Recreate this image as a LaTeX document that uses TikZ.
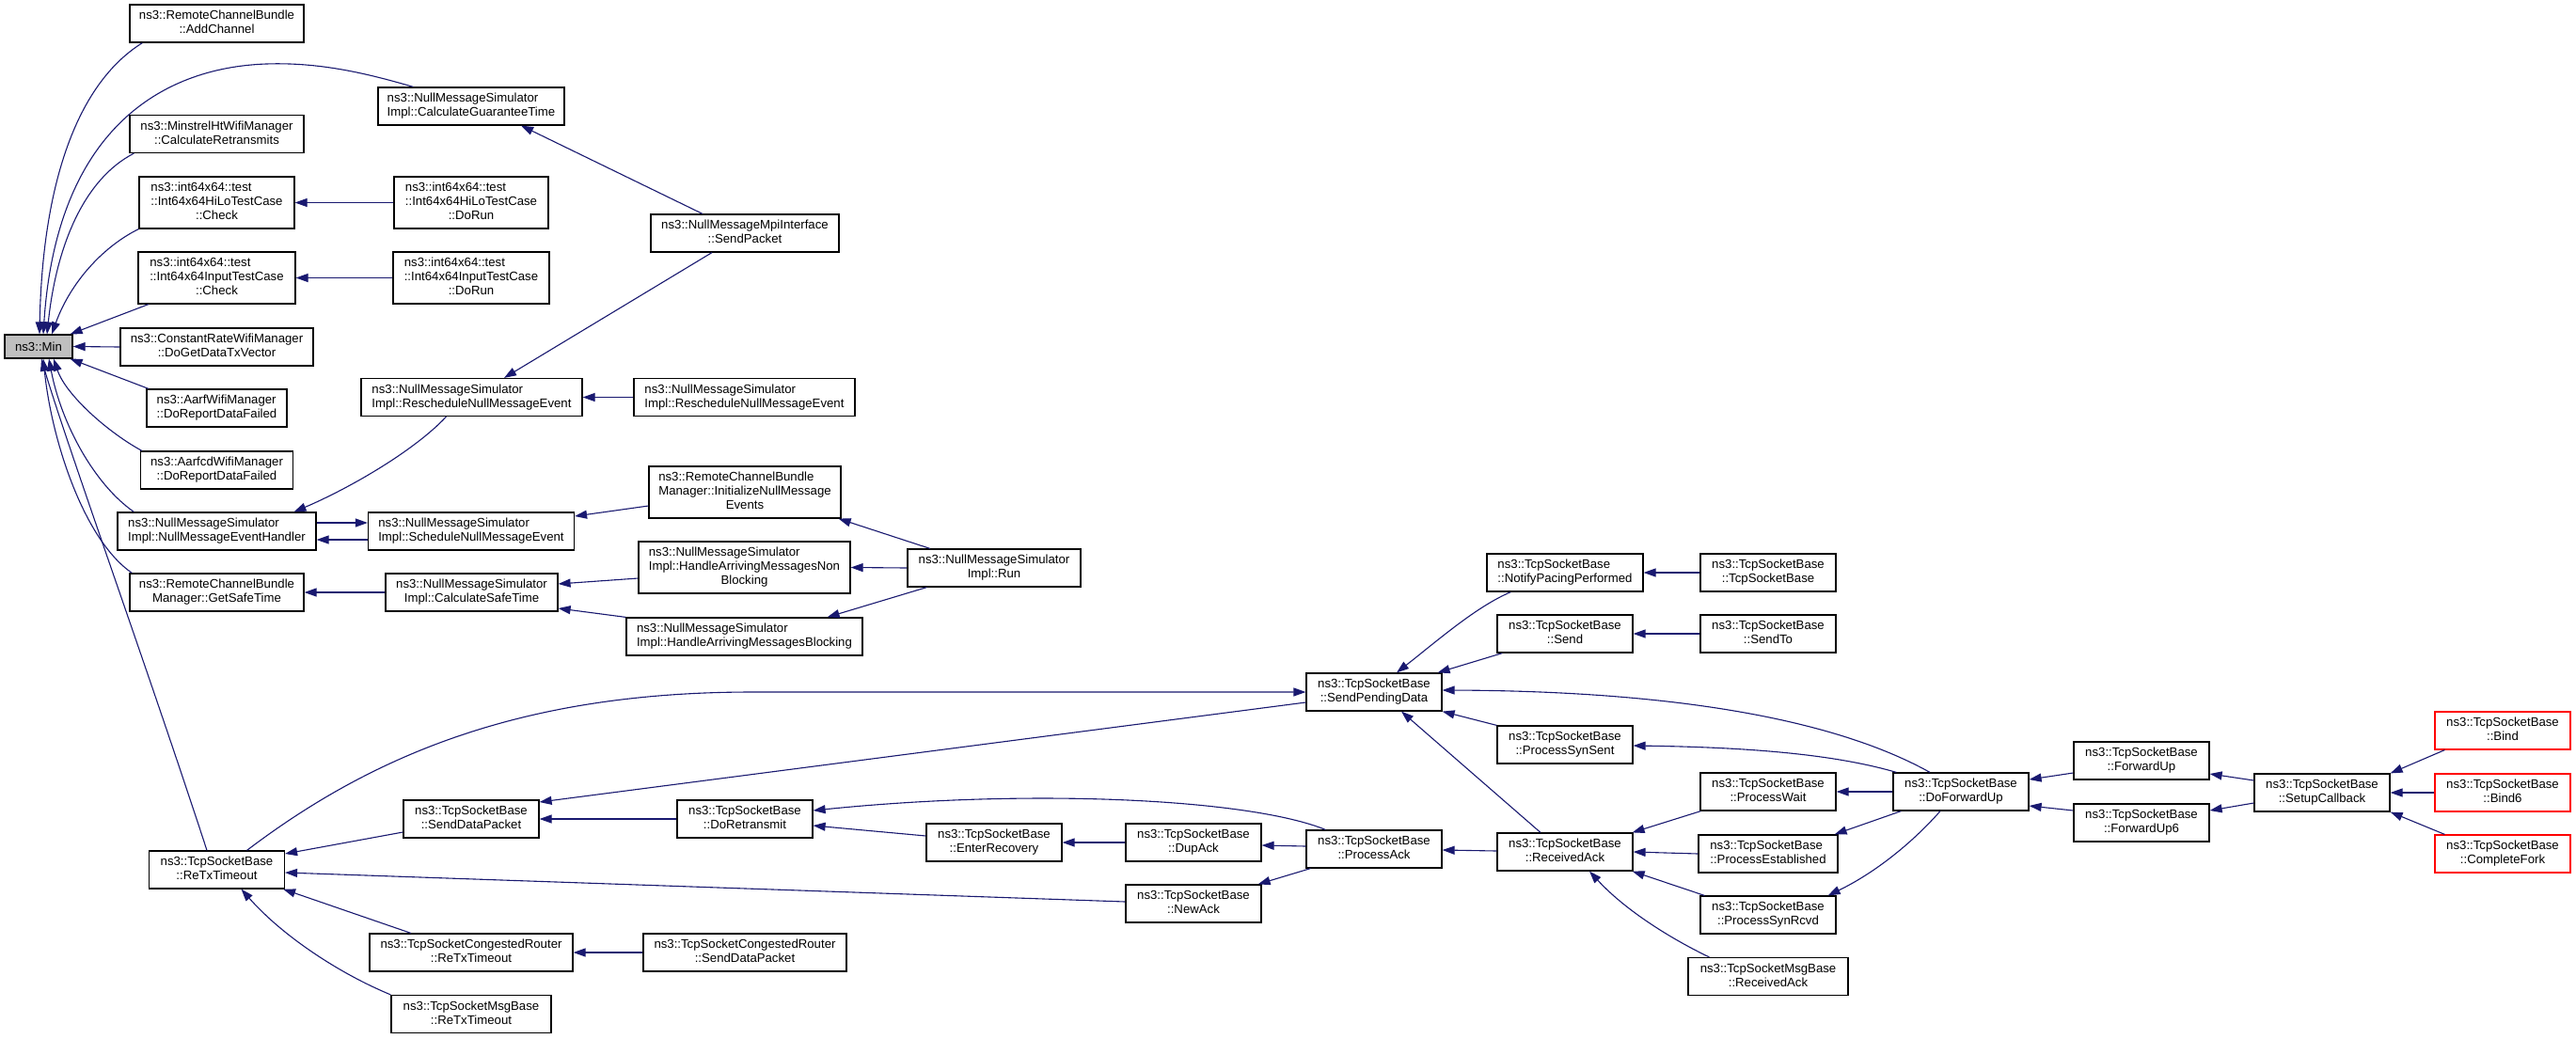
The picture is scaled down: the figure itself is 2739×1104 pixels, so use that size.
\documentclass[tikz,border=0pt]{standalone}
\usepackage{fontspec}
\setmainfont{Liberation Sans}
\usetikzlibrary{arrows.meta}
\definecolor{edgeblue}{RGB}{25,25,112}
\definecolor{minfill}{RGB}{191,191,191}
\newcommand\nlab[2]{\begin{tabular}{@{}l@{}}#1\\\multicolumn{1}{@{}c@{}}{#2}\end{tabular}}
\tikzset{
  box/.style={draw=black, line width=1.2pt, fill=white, inner sep=0pt, minimum height=40pt,
    font=\fontsize{13.2}{15}\selectfont, align=center},
  box3/.style={box, minimum height=55pt},
  rbox/.style={box, draw=red, minimum width=144pt},
  edge/.style={draw=edgeblue, line width=1.1pt, -{Triangle[length=13pt,width=9pt]}}
}
\begin{document}
\begin{tikzpicture}[x=1pt,y=-1pt]
\useasboundingbox[fill=white] (0,0) rectangle (2739,1104);
% ---------- nodes ----------
\node[box, minimum width=72pt, minimum height=25pt, fill=minfill] (Min) at (41,368.5) {ns3::Min};
\node[box, minimum width=185pt] (AddChannel) at (230.5,25) {\nlab{ns3::RemoteChannelBundle}{::AddChannel}};
\node[box, minimum width=198pt] (CGT) at (501,113) {\nlab{ns3::NullMessageSimulator}{Impl::CalculateGuaranteeTime}};
\node[box, minimum width=185pt] (CRT) at (230.5,142.5) {\nlab{ns3::MinstrelHtWifiManager}{::CalculateRetransmits}};
\node[box3, minimum width=165pt] (HiLoCheck) at (230.5,215.5) {\nlab{ns3::int64x64::test\\::Int64x64HiLoTestCase}{::Check}};
\node[box3, minimum width=164pt] (HiLoRun) at (501,215.5) {\nlab{ns3::int64x64::test\\::Int64x64HiLoTestCase}{::DoRun}};
\node[box3, minimum width=167pt] (InCheck) at (230.5,295.5) {\nlab{ns3::int64x64::test\\::Int64x64InputTestCase}{::Check}};
\node[box3, minimum width=166pt] (InRun) at (501,295.5) {\nlab{ns3::int64x64::test\\::Int64x64InputTestCase}{::DoRun}};
\node[box, minimum width=205pt] (CRate) at (230.5,369) {\nlab{ns3::ConstantRateWifiManager}{::DoGetDataTxVector}};
\node[box, minimum width=149pt] (Aarf) at (230.5,434) {\nlab{ns3::AarfWifiManager}{::DoReportDataFailed}};
\node[box, minimum width=162pt] (Aarfcd) at (230.5,500) {\nlab{ns3::AarfcdWifiManager}{::DoReportDataFailed}};
\node[box, minimum width=211pt] (NMEH) at (230.5,565) {\nlab{ns3::NullMessageSimulator}{Impl::NullMessageEventHandler}};
\node[box, minimum width=185pt] (GST) at (230.5,630) {\nlab{ns3::RemoteChannelBundle}{Manager::GetSafeTime}};
\node[box, minimum width=144pt] (ReTx) at (230.5,925) {\nlab{ns3::TcpSocketBase}{::ReTxTimeout}};
\node[box, minimum width=200pt] (SendPacket) at (792,248) {\nlab{ns3::NullMessageMpiInterface}{::SendPacket}};
\node[box, minimum width=235pt] (ReschedL) at (501.5,422.5) {\nlab{ns3::NullMessageSimulator}{Impl::RescheduleNullMessageEvent}};
\node[box, minimum width=235pt] (ReschedR) at (791.5,422.5) {\nlab{ns3::NullMessageSimulator}{Impl::RescheduleNullMessageEvent}};
\node[box, minimum width=219pt] (SchedNME) at (501,565) {\nlab{ns3::NullMessageSimulator}{Impl::ScheduleNullMessageEvent}};
\node[box, minimum width=183pt] (CST) at (501.5,630) {\nlab{ns3::NullMessageSimulator}{Impl::CalculateSafeTime}};
\node[box3, minimum width=204pt] (Init) at (792,523.5) {\nlab{ns3::RemoteChannelBundle\\Manager::InitializeNullMessage}{Events}};
\node[box3, minimum width=225pt] (HAMNB) at (791.5,603.5) {\nlab{ns3::NullMessageSimulator\\Impl::HandleArrivingMessagesNon}{Blocking}};
\node[box, minimum width=251pt] (HAMB) at (791.5,677) {\nlab{ns3::NullMessageSimulator}{Impl::HandleArrivingMessagesBlocking}};
\node[box, minimum width=184pt] (Run) at (1057,604) {\nlab{ns3::NullMessageSimulator}{Impl::Run}};
\node[box, minimum width=144pt] (SDP) at (501,871) {\nlab{ns3::TcpSocketBase}{::SendDataPacket}};
\node[box, minimum width=216pt] (CRReTx) at (501,1013) {\nlab{ns3::TcpSocketCongestedRouter}{::ReTxTimeout}};
\node[box, minimum width=170pt] (MsgReTx) at (501,1078.5) {\nlab{ns3::TcpSocketMsgBase}{::ReTxTimeout}};
\node[box, minimum width=144pt] (DoRetx) at (792,871) {\nlab{ns3::TcpSocketBase}{::DoRetransmit}};
\node[box, minimum width=216pt] (CRSDP) at (792,1013) {\nlab{ns3::TcpSocketCongestedRouter}{::SendDataPacket}};
\node[box, minimum width=144pt] (EnterRec) at (1057,896) {\nlab{ns3::TcpSocketBase}{::EnterRecovery}};
\node[box, minimum width=144pt] (DupAck) at (1269,896) {\nlab{ns3::TcpSocketBase}{::DupAck}};
\node[box, minimum width=144pt] (NewAck) at (1269,961) {\nlab{ns3::TcpSocketBase}{::NewAck}};
\node[box, minimum width=144pt] (SPD) at (1461,736) {\nlab{ns3::TcpSocketBase}{::SendPendingData}};
\node[box, minimum width=144pt] (ProcAck) at (1461,903) {\nlab{ns3::TcpSocketBase}{::ProcessAck}};
\node[box, minimum width=166pt] (NPP) at (1664,609) {\nlab{ns3::TcpSocketBase}{::NotifyPacingPerformed}};
\node[box, minimum width=144pt] (Send) at (1664,674) {\nlab{ns3::TcpSocketBase}{::Send}};
\node[box, minimum width=144pt] (PSS) at (1664,792) {\nlab{ns3::TcpSocketBase}{::ProcessSynSent}};
\node[box, minimum width=144pt] (RA) at (1664,906) {\nlab{ns3::TcpSocketBase}{::ReceivedAck}};
\node[box, minimum width=144pt] (TSB) at (1880,609) {\nlab{ns3::TcpSocketBase}{::TcpSocketBase}};
\node[box, minimum width=144pt] (SendTo) at (1880,674) {\nlab{ns3::TcpSocketBase}{::SendTo}};
\node[box, minimum width=144pt] (PW) at (1880,842) {\nlab{ns3::TcpSocketBase}{::ProcessWait}};
\node[box, minimum width=148pt] (PE) at (1880,908) {\nlab{ns3::TcpSocketBase}{::ProcessEstablished}};
\node[box, minimum width=144pt] (PSR) at (1880,973) {\nlab{ns3::TcpSocketBase}{::ProcessSynRcvd}};
\node[box, minimum width=170pt] (MsgRA) at (1880,1038.5) {\nlab{ns3::TcpSocketMsgBase}{::ReceivedAck}};
\node[box, minimum width=144pt] (DFU) at (2085,842) {\nlab{ns3::TcpSocketBase}{::DoForwardUp}};
\node[box, minimum width=144pt] (FU) at (2277,809) {\nlab{ns3::TcpSocketBase}{::ForwardUp}};
\node[box, minimum width=144pt] (FU6) at (2277,875) {\nlab{ns3::TcpSocketBase}{::ForwardUp6}};
\node[box, minimum width=144pt] (SC) at (2469,843) {\nlab{ns3::TcpSocketBase}{::SetupCallback}};
\node[rbox] (Bind) at (2661,777) {\nlab{ns3::TcpSocketBase}{::Bind}};
\node[rbox] (Bind6) at (2661,843) {\nlab{ns3::TcpSocketBase}{::Bind6}};
\node[rbox] (CF) at (2661,908) {\nlab{ns3::TcpSocketBase}{::CompleteFork}};
% ---------- edges into Min ----------
\draw[edge] ([shift={(14,0)}]AddChannel.south west) .. controls (80,90) and (45,200) .. ([shift={(1,0)}]Min.north);
\draw[edge] ([shift={(38,0)}]CGT.north west) .. controls (390,78) and (340,66) .. (283,68) .. controls (170,72) and (60,140) .. ([shift={(5,0)}]Min.north);
\draw[edge] ([shift={(5,0)}]CRT.south west) .. controls (90,190) and (60,260) .. ([shift={(9,0)}]Min.north);
\draw[edge] (HiLoCheck.south west) .. controls (110,262) and (75,300) .. ([shift={(14,0)}]Min.north);
\draw[edge] ([shift={(11.5,0)}]InCheck.south west) -- ([shift={(-3,0)}]Min.north east);
\draw[edge] (CRate.west) -- (Min.east);
\draw[edge] ([shift={(2.5,0)}]Aarf.north west) -- ([shift={(-3,0)}]Min.south east);
\draw[edge] ([shift={(2,0)}]Aarfcd.north west) .. controls (115,460) and (70,420) .. ([shift={(16,0)}]Min.south);
\draw[edge] ([shift={(18,0)}]NMEH.north west) .. controls (100,515) and (65,450) .. ([shift={(11,0)}]Min.south);
\draw[edge] ([shift={(3,0)}]GST.north west) .. controls (90,575) and (55,470) .. ([shift={(5,0)}]Min.south);
\draw[edge] ([shift={(-10.5,0)}]ReTx.north) .. controls (160,720) and (70,470) .. ([shift={(3,0)}]Min.south);
% ---------- null message part ----------
\draw[edge] (HiLoRun.west) -- (HiLoCheck.east);
\draw[edge] (InRun.west) -- (InCheck.east);
\draw[edge] ([shift={(-45,0)}]SendPacket.north) -- ([shift={(-46.5,0)}]CGT.south east);
\draw[edge] ([shift={(-35,0)}]SendPacket.south) -- ([shift={(34.5,0)}]ReschedL.north);
\draw[edge] (ReschedR.west) -- (ReschedL.east);
\draw[edge] ([shift={(-27,0)}]ReschedL.south) .. controls (440,480) and (370,520) .. ([shift={(82,0)}]NMEH.north);
\draw[edge] ([shift={(0,-9)}]NMEH.east) -- ([shift={(0,-9)}]SchedNME.west);
\draw[edge] ([shift={(0,9)}]SchedNME.west) -- ([shift={(0,9)}]NMEH.east);
\draw[edge] ([shift={(0,14.5)}]Init.west) -- ([shift={(0,-16)}]SchedNME.east);
\draw[edge] ([shift={(0,11.5)}]HAMNB.west) -- ([shift={(0,-9)}]CST.east);
\draw[edge] (HAMB.north west) -- ([shift={(0,17)}]CST.east);
\draw[edge] (CST.west) -- (GST.east);
\draw[edge] ([shift={(24.5,0)}]Run.north west) -- ([shift={(-3,0)}]Init.south east);
\draw[edge] (Run.west) -- (HAMNB.east);
\draw[edge] ([shift={(21,0)}]Run.south west) -- ([shift={(-38,0)}]HAMB.north east);
% ---------- TCP part ----------
\draw[edge] ([shift={(32,0)}]ReTx.north) .. controls (400,800) and (560,736) .. (800,736) -- (SPD.west);
\draw[edge] ([shift={(0,11)}]SPD.west) -- ([shift={(0,-18)}]SDP.east);
\draw[edge] ([shift={(0,14)}]SDP.west) -- ([shift={(0,-17)}]ReTx.east);
\draw[edge] (DoRetx.west) -- (SDP.east);
\draw[edge] ([shift={(21,0)}]ProcAck.north west) .. controls (1330,850) and (1100,838) .. ([shift={(0,-9)}]DoRetx.east);
\draw[edge] ([shift={(0,-7)}]EnterRec.west) -- ([shift={(0,7)}]DoRetx.east);
\draw[edge] (DupAck.west) -- (EnterRec.east);
\draw[edge] ([shift={(0,-3)}]ProcAck.west) -- ([shift={(0,3)}]DupAck.east);
\draw[edge] ([shift={(5,0)}]ProcAck.south west) -- ([shift={(-4,0)}]NewAck.north east);
\draw[edge] ([shift={(0,-2)}]NewAck.west) -- ([shift={(0,3)}]ReTx.east);
\draw[edge] ([shift={(44.5,0)}]CRReTx.north west) -- ([shift={(-2,0)}]ReTx.south east);
\draw[edge] (MsgReTx.north west) .. controls (360,1035) and (300,995) .. ([shift={(26,0)}]ReTx.south);
\draw[edge] (CRSDP.west) -- (CRReTx.east);
\draw[edge] ([shift={(0,-1)}]RA.west) -- ([shift={(0,1)}]ProcAck.east);
\draw[edge] ([shift={(-26,0)}]RA.north) -- ([shift={(29,0)}]SPD.south);
\draw[edge] (PSS.north west) -- (SPD.south east);
\draw[edge] ([shift={(26,0)}]NPP.south west) .. controls (1570,645) and (1530,680) .. ([shift={(24,0)}]SPD.north);
\draw[edge] ([shift={(6,0)}]Send.south west) -- ([shift={(-5,0)}]SPD.north east);
\draw[edge] ([shift={(-33,0)}]DFU.north) .. controls (1960,770) and (1800,735) .. ([shift={(0,-2)}]SPD.east);
\draw[edge] ([shift={(4,0)}]DFU.north west) .. controls (1960,805) and (1880,795) .. ([shift={(0,1)}]PSS.east);
\draw[edge] (DFU.west) -- (PW.east);
\draw[edge] ([shift={(9,0)}]DFU.south west) -- ([shift={(-4,0)}]PE.north east);
\draw[edge] ([shift={(-22,0)}]DFU.south) .. controls (2030,900) and (1990,930) .. ([shift={(-9,0)}]PSR.north east);
\draw[edge] ([shift={(0,13)}]FU.west) -- ([shift={(0,-13)}]DFU.east);
\draw[edge] ([shift={(0,-13)}]FU6.west) -- ([shift={(0,15)}]DFU.east);
\draw[edge] ([shift={(0,-13)}]SC.west) -- ([shift={(0,14)}]FU.east);
\draw[edge] ([shift={(0,11)}]SC.west) -- ([shift={(0,-13)}]FU6.east);
\draw[edge] ([shift={(11,0)}]Bind.south west) -- (SC.north east);
\draw[edge] (Bind6.west) -- (SC.east);
\draw[edge] ([shift={(11,0)}]CF.north west) -- (SC.south east);
\draw[edge] ([shift={(1,0)}]PW.south west) -- ([shift={(-1,0)}]RA.north east);
\draw[edge] (PE.west) -- (RA.east);
\draw[edge] ([shift={(5,0)}]PSR.north west) -- ([shift={(-1,0)}]RA.south east);
\draw[edge] ([shift={(23,0)}]MsgRA.north west) .. controls (1780,1000) and (1730,970) .. ([shift={(26,0)}]RA.south);
\draw[edge] (TSB.west) -- (NPP.east);
\draw[edge] (SendTo.west) -- (Send.east);
\end{tikzpicture}
\end{document}
